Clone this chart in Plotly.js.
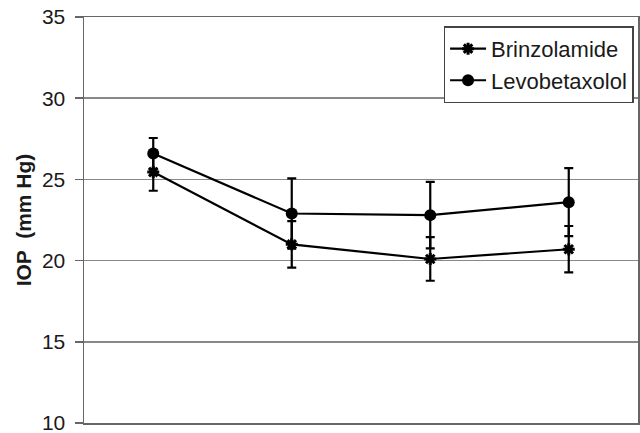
<!DOCTYPE html>
<html>
<head>
<meta charset="utf-8">
<script src="https://cdn.plot.ly/plotly-3.0.1.min.js"></script>
<style>html,body{margin:0;padding:0;background:#fff;}#chart{width:640px;height:433px;}</style>
</head>
<body>
<div id="chart"></div>
<script>
const visits = [1, 2, 3, 4];
const brinzolamide = [25.45, 21.0, 20.1, 20.7];
const brinzolamideErr = [1.15, 1.43, 1.34, 1.43];
const levobetaxolol = [26.6, 22.9, 22.8, 23.6];
const levobetaxololErr = [0.95, 2.16, 2.05, 2.09];
const yTicks = [10, 15, 20, 25, 30, 35];

const common = {
  type: 'scatter',
  mode: 'lines+markers',
  x: visits,
  line: {color: '#000', width: 2.2},
  cliponaxis: false
};

const traces = [
  Object.assign({}, common, {
    name: 'Brinzolamide',
    y: brinzolamide,
    marker: {symbol: 'asterisk-open', size: 10, color: '#000', line: {color: '#000', width: 3}},
    error_y: {type: 'data', array: brinzolamideErr, visible: true, color: '#000', thickness: 2.2, width: 4.5}
  }),
  Object.assign({}, common, {
    name: 'Levobetaxolol',
    y: levobetaxolol,
    marker: {symbol: 'circle', size: 12, color: '#000'},
    error_y: {type: 'data', array: levobetaxololErr, visible: true, color: '#000', thickness: 2.2, width: 4.5}
  })
];

const layout = {
  width: 640,
  height: 433,
  margin: {l: 84, r: 2, t: 17, b: 10},
  paper_bgcolor: '#fff',
  plot_bgcolor: '#fff',
  font: {family: 'Liberation Sans, Arial, sans-serif', size: 21, color: '#1a1a1a'},
  showlegend: true,
  legend: {
    x: 0.992, xanchor: 'right',
    y: 0.977, yanchor: 'top',
    bgcolor: '#fff',
    bordercolor: '#444',
    borderwidth: 1.5,
    font: {size: 22, color: '#1a1a1a'},
    itemwidth: 36,
    tracegroupgap: 0
  },
  xaxis: {
    range: [0.5, 4.5],
    showgrid: false,
    zeroline: false,
    showticklabels: false,
    ticks: '',
    showline: true,
    mirror: true,
    linecolor: '#666',
    linewidth: 1.5,
    fixedrange: true
  },
  yaxis: {
    range: [10, 35],
    tickvals: yTicks,
    ticktext: yTicks.map(String),
    ticks: 'outside',
    ticklen: 8,
    tickwidth: 1.5,
    tickcolor: '#666',
    ticklabelstandoff: 5,
    ticklabeloverflow: 'allow',
    showgrid: true,
    gridcolor: '#888',
    gridwidth: 1.5,
    zeroline: false,
    showline: true,
    mirror: true,
    linecolor: '#666',
    linewidth: 1.5,
    tickfont: {size: 21, color: '#1a1a1a'},
    title: {text: '<b>IOP  (mm Hg)</b>', font: {size: 21, color: '#1a1a1a'}, standoff: 4},
    fixedrange: true
  }
};

Plotly.newPlot('chart', traces, layout, {displayModeBar: false, staticPlot: true});
</script>
</body>
</html>
